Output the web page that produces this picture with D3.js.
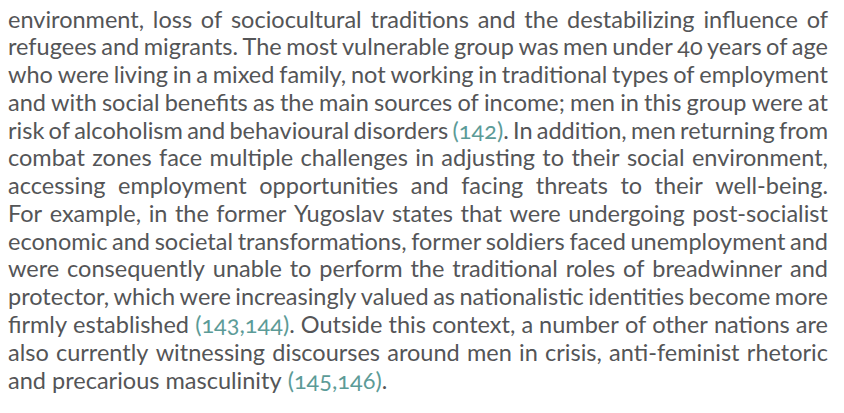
<!DOCTYPE html>
<html>
<head>
<meta charset="utf-8">
<script src="https://cdn.jsdelivr.net/npm/d3@7/dist/d3.min.js"></script>
<style>
  html, body { margin: 0; padding: 0; background: #ffffff; }
  svg { display: block; }
  text { font-family: Lato, "Open Sans", "Noto Sans", sans-serif; font-feature-settings: "onum" 1, "liga" 1; font-variant-numeric: oldstyle-nums; }
</style>
</head>
<body>
<svg id="chart" width="844" height="413"></svg>
<script>
// ---- content (the reference is a justified paragraph, one entry per printed line) ----
const lines = [
  "environment, loss of sociocultural traditions and the destabilizing influence of",
  "refugees and migrants. The most vulnerable group was men under 40 years of age",
  "who were living in a mixed family, not working in traditional types of employment",
  "and with social benefits as the main sources of income; men in this group were at",
  "risk of alcoholism and behavioural disorders (142). In addition, men returning from",
  "combat zones face multiple challenges in adjusting to their social environment,",
  "accessing employment opportunities and facing threats to their well-being.",
  "For example, in the former Yugoslav states that were undergoing post-socialist",
  "economic and societal transformations, former soldiers faced unemployment and",
  "were consequently unable to perform the traditional roles of breadwinner and",
  "protector, which were increasingly valued as nationalistic identities become more",
  "firmly established (143,144). Outside this context, a number of other nations are",
  "also currently witnessing discourses around men in crisis, anti-feminist rhetoric",
  "and precarious masculinity (145,146)."
];
const citations = ["(142)", "(143,144)", "(145,146)"];

// ---- layout ----
const width = 844, height = 413;
const fontSize = 24;
const textColor = "#545557";
const citeColor = "#5c9b97";
const svg = d3.select("#chart");

const x = d3.scaleLinear().domain([0, 1]).range([8, 828]);
const y = d3.scaleLinear().domain([0, lines.length - 1]).range([27.7, 388.5]);
const lineWidth = x(1) - x(0);

function tokenParts(word) {
  for (const c of citations) {
    const i = word.indexOf(c);
    if (i >= 0) {
      const parts = [];
      if (i > 0) parts.push({ t: word.slice(0, i), cite: false });
      parts.push({ t: c, cite: true });
      if (i + c.length < word.length) parts.push({ t: word.slice(i + c.length), cite: false });
      return parts;
    }
  }
  return [{ t: word, cite: false }];
}

const words = lines.map(l => l.split(" "));

const probe = svg.append("text").attr("x", -1000).attr("y", -1000).attr("font-size", fontSize);
function measure(str) {
  probe.text(str);
  return probe.node().getComputedTextLength();
}
const spaceW = measure("a a") - measure("aa");
// horizontal condensing so the tightest line fits with spaces >= 70% of normal
const sx = Math.min(1, d3.min(words, ws => lineWidth / (d3.sum(ws, w => measure(w)) + (ws.length - 1) * spaceW * 0.7)));
probe.remove();

const g = svg.append("g").attr("font-size", fontSize);

words.forEach((ws, li) => {
  const last = li === lines.length - 1;
  const lineG = g.append("g");
  const nodes = ws.map(w => {
    const t = lineG.append("text").attr("fill", textColor);
    t.selectAll("tspan")
      .data(tokenParts(w))
      .join("tspan")
      .attr("fill", d => d.cite ? citeColor : null)
      .text(d => d.t);
    return t;
  });
  const widths = nodes.map(n => n.node().getComputedTextLength() * sx);
  const total = d3.sum(widths);
  const gap = last ? spaceW * sx : (lineWidth - total) / (ws.length - 1);
  let cx = x(0);
  nodes.forEach((n, i) => {
    n.attr("transform", `translate(${cx},${y(li)}) scale(${sx},1)`);
    cx += widths[i] + gap;
  });
});
</script>
</body>
</html>
